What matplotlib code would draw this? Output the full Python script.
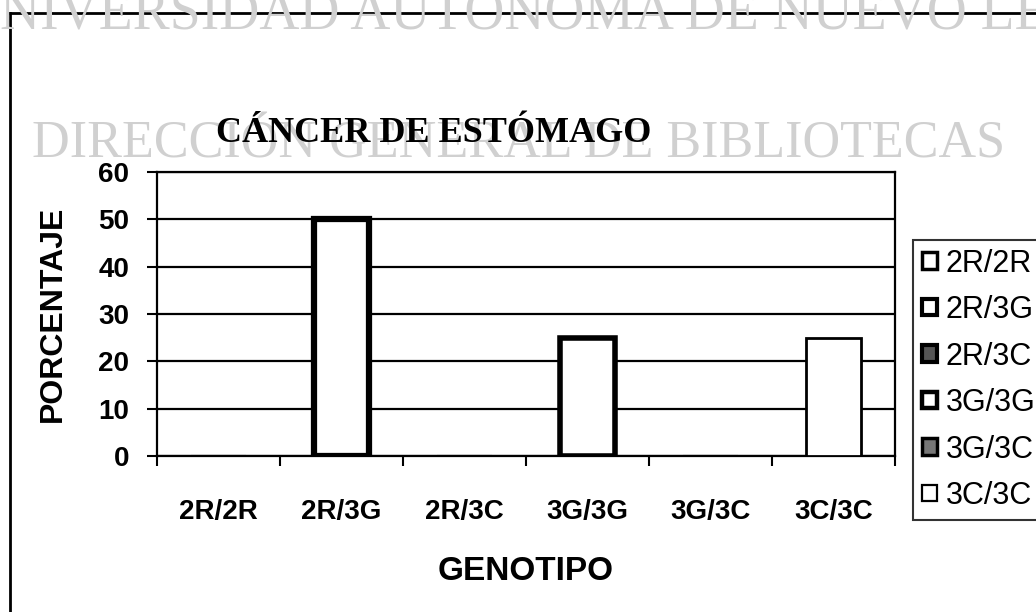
import numpy as np
import matplotlib
matplotlib.use("Agg")
import matplotlib.pyplot as plt
from matplotlib.lines import Line2D

# data
genotipos = ["2R/2R", "2R/3G", "2R/3C", "3G/3G", "3G/3C", "3C/3C"]
porcentaje = [0, 50, 0, 25, 0, 25]
y_ticks = [0, 10, 20, 30, 40, 50, 60]

title = "CÁNCER DE ESTÓMAGO"
marca_1 = "UNIVERSIDAD AUTÓNOMA DE NUEVO LEÓN"
marca_2 = "DIRECCIÓN GENERAL DE BIBLIOTECAS"

W, H = 1036, 612


def px_x(x):
    return x / W


def px_y(y):
    # y measured from the top of the picture
    return 1 - y / H


fig = plt.figure(figsize=(W / 100, H / 100), dpi=100)
fig.patch.set_facecolor("white")

ax = fig.add_axes([px_x(157), px_y(456), px_x(895) - px_x(157), px_y(172) - px_y(456)])
ax.set_facecolor("none")

# bar styles (edge widths imitate the scanned patterns)
edge_w = [1.5, 4.5, 1.5, 4.0, 1.5, 2.0]
leg_fill = ["white", "white", "#555555", "white", "#777777", "white"]
leg_edge_w = [2.5, 3.0, 3.0, 3.2, 2.5, 1.6]
x = np.arange(len(genotipos))
for i, (g, v) in enumerate(zip(genotipos, porcentaje)):
    ax.bar(x[i], v, width=0.44, color="white", edgecolor="black",
           linewidth=edge_w[i], label=g, zorder=3)

ax.set_xlim(-0.5, len(genotipos) - 0.5)
ax.set_ylim(0, 60)
ax.set_yticks(y_ticks)
ax.yaxis.grid(True, color="black", linewidth=1.6, zorder=1)
ax.set_axisbelow(True)

ax.set_xticks(np.arange(-0.5, len(genotipos)), labels=[""] * (len(genotipos) + 1))
ax.set_xticks(x, labels=genotipos, minor=True)
ax.tick_params(axis="x", which="major", length=7, width=1.5, direction="out")
ax.tick_params(axis="x", which="minor", length=0, pad=31)
ax.tick_params(axis="y", length=7, width=1.5, direction="out", pad=13)
for lab in ax.get_xticklabels(minor=True) + ax.get_yticklabels():
    lab.set_fontfamily("Liberation Sans")
    lab.set_fontweight("bold")
    lab.set_fontsize(20)

for sp in ax.spines.values():
    sp.set_linewidth(1.6)
    sp.set_color("black")

ax.set_ylabel("PORCENTAJE", fontsize=23, fontweight="bold", family="Liberation Sans")
ax.yaxis.set_label_coords(-0.121, 0.5)
ax.set_xlabel("GENOTIPO", fontsize=24, fontweight="bold", family="Liberation Sans")
ax.xaxis.set_label_coords(0.5, -0.352)

# legend
handles, labels = ax.get_legend_handles_labels()
leg = fig.legend(handles, labels, loc="upper left",
                 bbox_to_anchor=(px_x(913), px_y(240)),
                 prop={"family": "Liberation Sans", "size": 22},
                 handlelength=0.5, handleheight=0.45, handletextpad=0.28,
                 labelspacing=0.54, borderpad=0.28, borderaxespad=0,
                 frameon=True, fancybox=False, edgecolor="black")
leg.get_frame().set_linewidth(1.5)
for patch, fc, lw in zip(leg.get_patches(), leg_fill, leg_edge_w):
    patch.set_facecolor(fc)
    patch.set_linewidth(lw)

# chart frame from the scan
fig.add_artist(Line2D([px_x(10), 1], [px_y(13), px_y(13)], transform=fig.transFigure,
                      color="black", linewidth=2))
fig.add_artist(Line2D([px_x(10), px_x(10)], [px_y(13), 0], transform=fig.transFigure,
                      color="black", linewidth=2))

# library watermark and title
fig.text(px_x(-40), px_y(30), marca_1, ha="left", va="baseline", fontsize=40,
         family="Liberation Serif", color="#d0d0d0", zorder=2)
fig.text(px_x(32), px_y(158), marca_2, ha="left", va="baseline", fontsize=37.5,
         family="Liberation Serif", color="#d0d0d0", zorder=2)
fig.text(px_x(434), px_y(142), title, ha="center", va="baseline", fontsize=26,
         family="Liberation Serif", fontweight="bold", color="black", zorder=3)

fig.savefig("out.png", dpi=100)
